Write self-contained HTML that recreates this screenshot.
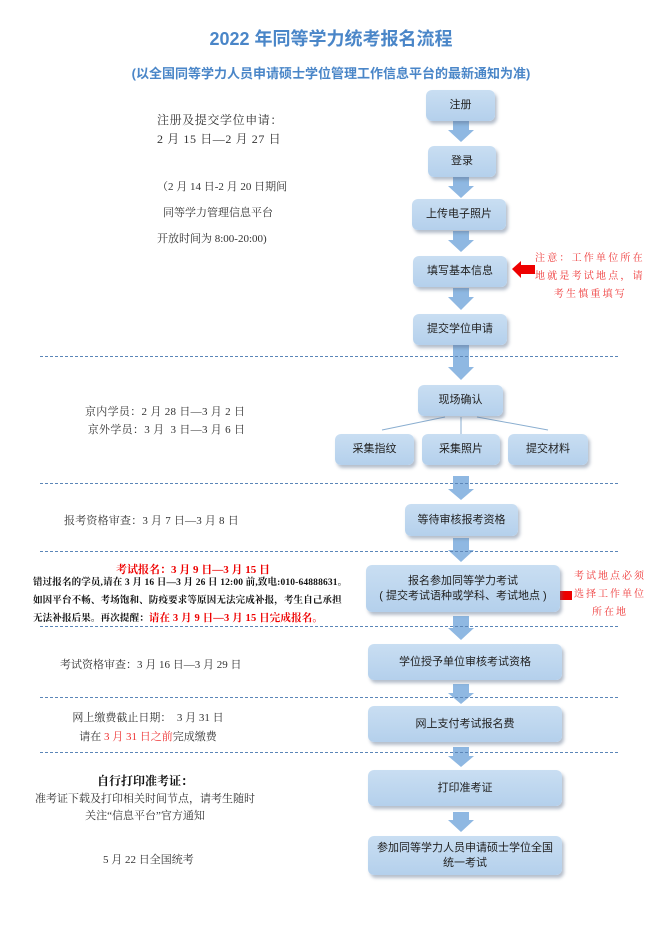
<!DOCTYPE html>
<html><head><meta charset="utf-8"><style>
html,body{margin:0;padding:0;background:#fff}
body{width:662px;height:936px;position:relative;overflow:hidden;font-family:"Liberation Sans","Noto Sans CJK SC",sans-serif}
.a{position:absolute}
.box{position:absolute;background:linear-gradient(#c9def2,#b4d0ec);border-radius:6px;box-shadow:2px 3px 3px rgba(90,110,140,.45);color:#222;font-size:11px;display:flex;align-items:center;justify-content:center;text-align:center;line-height:15px}
.s{font-family:"Liberation Serif","Noto Serif CJK SC",serif;color:#333;font-size:11px;white-space:nowrap}
.dash{position:absolute;left:40px;width:578px;border-top:1px dashed #5b86b8;height:0}
.c{text-align:center}
.red{color:#e00}
</style></head><body>
<div class="a c" style="left:0;width:662px;top:25px;font-size:18px;font-weight:bold;color:#4a86c8">2022 年同等学力统考报名流程</div>
<div class="a c" style="left:0;width:662px;top:63px;font-size:13px;font-weight:bold;color:#4a86c8">(以全国同等学力人员申请硕士学位管理工作信息平台的最新通知为准)</div>

<svg class="a" style="left:0;top:0" width="662" height="936">
<g fill="#8fb8e2">
<polygon points="453,121 469,121 469,130 474,130 461,142 448,130 453,130"/>
<polygon points="453,177 469,177 469,186 474,186 461,198 448,186 453,186"/>
<polygon points="453,231 469,231 469,240 474,240 461,252 448,240 453,240"/>
<polygon points="453,288 469,288 469,297 474,297 461,310 448,297 453,297"/>
<polygon points="453,345 469,345 469,367 474,367 461,380 448,367 453,367"/>
<polygon points="453,476 469,476 469,489 474,489 461,500 448,489 453,489"/>
<polygon points="453,538 469,538 469,550 474,550 461,562 448,550 453,550"/>
<polygon points="453,616 469,616 469,628 474,628 461,640 448,628 453,628"/>
<polygon points="453,684 469,684 469,693 474,693 461,704 448,693 453,693"/>
<polygon points="453,747 469,747 469,756 474,756 461,767 448,756 453,756"/>
<polygon points="453,812 469,812 469,820 474,820 461,832 448,820 453,820"/>
</g>
<g stroke="#8aaed0" stroke-width="1">
<line x1="445" y1="417" x2="382" y2="430"/>
<line x1="461" y1="417" x2="461" y2="434"/>
<line x1="477" y1="417" x2="548" y2="430"/>
</g>
<polygon fill="#e00" points="512,269 521,261 521,265 535,265 535,274 521,274 521,278"/>
<polygon fill="#e00" points="552,595 560,587 560,591 572,591 572,600 560,600 560,604"/>
<line x1="496" y1="603" x2="542" y2="603" stroke="#d00" stroke-width="1"/>
</svg>

<div class="dash" style="top:356px"></div>
<div class="dash" style="top:483px"></div>
<div class="dash" style="top:551px"></div>
<div class="dash" style="top:626px"></div>
<div class="dash" style="top:697px"></div>
<div class="dash" style="top:752px"></div>

<div class="box" style="left:426px;top:90px;width:69px;height:31px">注册</div>
<div class="box" style="left:428px;top:146px;width:68px;height:31px">登录</div>
<div class="box" style="left:412px;top:199px;width:94px;height:31px">上传电子照片</div>
<div class="box" style="left:413px;top:256px;width:94px;height:31px">填写基本信息</div>
<div class="box" style="left:413px;top:314px;width:94px;height:31px">提交学位申请</div>
<div class="box" style="left:418px;top:385px;width:85px;height:31px">现场确认</div>
<div class="box" style="left:335px;top:434px;width:79px;height:31px">采集指纹</div>
<div class="box" style="left:422px;top:434px;width:78px;height:31px">采集照片</div>
<div class="box" style="left:508px;top:434px;width:80px;height:31px">提交材料</div>
<div class="box" style="left:405px;top:504px;width:113px;height:32px">等待审核报考资格</div>
<div class="box" style="left:366px;top:565px;width:194px;height:47px">报名参加同等学力考试<br>( 提交考试语种或学科、考试地点 )</div>
<div class="box" style="left:368px;top:644px;width:194px;height:36px">学位授予单位审核考试资格</div>
<div class="box" style="left:368px;top:706px;width:194px;height:36px">网上支付考试报名费</div>
<div class="box" style="left:368px;top:770px;width:194px;height:36px">打印准考证</div>
<div class="box" style="left:368px;top:836px;width:194px;height:39px">参加同等学力人员申请硕士学位全国<br>统一考试</div>

<div class="a s" style="left:157px;top:111px;line-height:19px;font-size:12px;letter-spacing:0.6px">注册及提交学位申请：<br>2 月 15 日—2 月 27 日</div>
<div class="a s" style="left:157px;top:178px">（2 月 14 日-2 月 20 日期间</div>
<div class="a s" style="left:163px;top:204px">同等学力管理信息平台</div>
<div class="a s" style="left:157px;top:230px">开放时间为 8:00-20:00)</div>
<div class="a s" style="left:535px;top:250px;line-height:18px;font-size:10px;color:#e33;letter-spacing:2.2px">注意：工作单位所在<br>地就是考试地点，请<br>&nbsp; &nbsp; 考生慎重填写</div>

<div class="a s" style="left:85px;top:403px;line-height:18px;text-align:right;letter-spacing:0.3px">京内学员：2 月 28 日—3 月 2 日<br>京外学员：3 月 &nbsp;3 日—3 月 6 日</div>
<div class="a s" style="left:64px;top:512px;letter-spacing:0.2px">报考资格审查：3 月 7 日—3 月 8 日</div>

<div class="a s c red" style="left:0;width:386px;top:561px;font-weight:bold">考试报名：3 月 9 日—3 月 15 日</div>
<div class="a s" style="left:33px;top:575px;font-size:9.5px;font-weight:bold;color:#111;line-height:17.5px;letter-spacing:0.15px">错过报名的学员,请在 3 月 16 日—3 月 26 日 12:00 前,致电:010-64888631。<br>如因平台不畅、考场饱和、防疫要求等原因无法完成补报，考生自己承担<br>无法补报后果。再次提醒：<span class="red" style="font-size:10.5px">请在 3 月 9 日—3 月 15 日完成报名。</span></div>
<div class="a s c" style="left:570px;top:568px;width:80px;line-height:18px;font-size:10px;color:#e33;letter-spacing:2px">考试地点必须<br>选择工作单位<br>所在地</div>

<div class="a s" style="left:60px;top:656px">考试资格审查：3 月 16 日—3 月 29 日</div>
<div class="a s c" style="left:18px;width:260px;top:709px;line-height:19px">网上缴费截止日期： &nbsp;3 月 31 日<br>请在 <span style="color:#e33">3 月 31 日之前</span>完成缴费</div>
<div class="a s c" style="left:0;width:290px;top:773px;line-height:17px"><b style="font-size:12px;color:#111">自行打印准考证：</b><br>准考证下载及打印相关时间节点，请考生随时<br>关注“信息平台”官方通知</div>
<div class="a s" style="left:103px;top:851px">5 月 22 日全国统考</div>
</body></html>
